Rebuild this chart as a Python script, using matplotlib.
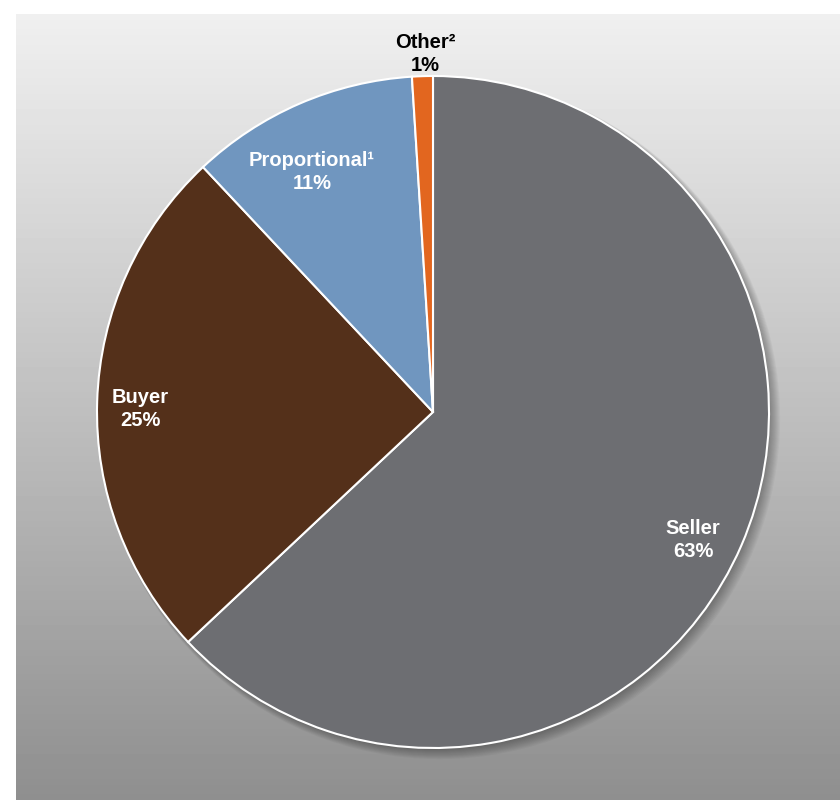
import numpy as np
import matplotlib.pyplot as plt
from matplotlib.patches import Circle

plt.rcParams['font.family'] = ['Liberation Sans', 'DejaVu Sans']

# share of deals by who pays
labels = ['Seller', 'Buyer', 'Proportional\u00b9', 'Other\u00b2']
shares = [63, 25, 11, 1]
colors = ['#6d6e72', '#54301a', '#7096bf', '#e2661f']

W, H = 840, 800
fig = plt.figure(figsize=(W / 100, H / 100), dpi=100)

# grey gradient panel behind the pie
bg = fig.add_axes([16 / W, 0, 1 - 16 / W, 1 - 14 / H])
grad = np.linspace(0.94, 0.56, 256).reshape(-1, 1)
bg.imshow(grad, cmap='gray', vmin=0, vmax=1, aspect='auto', extent=[0, 1, 0, 1])
bg.set_axis_off()

# pie: centre (433, 412), radius 336 in pixels
cx, cy, r = 433, 412, 336
ax = fig.add_axes([(cx - r) / W, (H - cy - r) / H, 2 * r / W, 2 * r / H])
ax.set_axis_off()

# soft drop shadow
for i in range(10):
    off = 0.006 + i * 0.0015
    ax.add_patch(Circle((off, -off), 1.0 + i * 0.0015, color='black',
                        alpha=0.03, lw=0, zorder=0, clip_on=False))

wedges, _ = ax.pie(shares, colors=colors, startangle=90, counterclock=False,
                   radius=1.0, wedgeprops=dict(edgecolor='white', linewidth=1.5))
for w in wedges:
    w.set_clip_on(False)
ax.set_aspect('equal')
ax.set_xlim(-1, 1)
ax.set_ylim(-1, 1)

# label positions in pixels
pos = [(693, 540), (140, 409), (312, 172), (425, 54)]
text_colors = ['white', 'white', 'white', 'black']
for lab, val, (px, py), tc in zip(labels, shares, pos, text_colors):
    fig.text(px / W, 1 - py / H, f'{lab}\n{val}%', ha='center', va='center',
             color=tc, fontsize=14.5, fontweight='bold', linespacing=1.3)

fig.savefig('out.png', dpi=100)
